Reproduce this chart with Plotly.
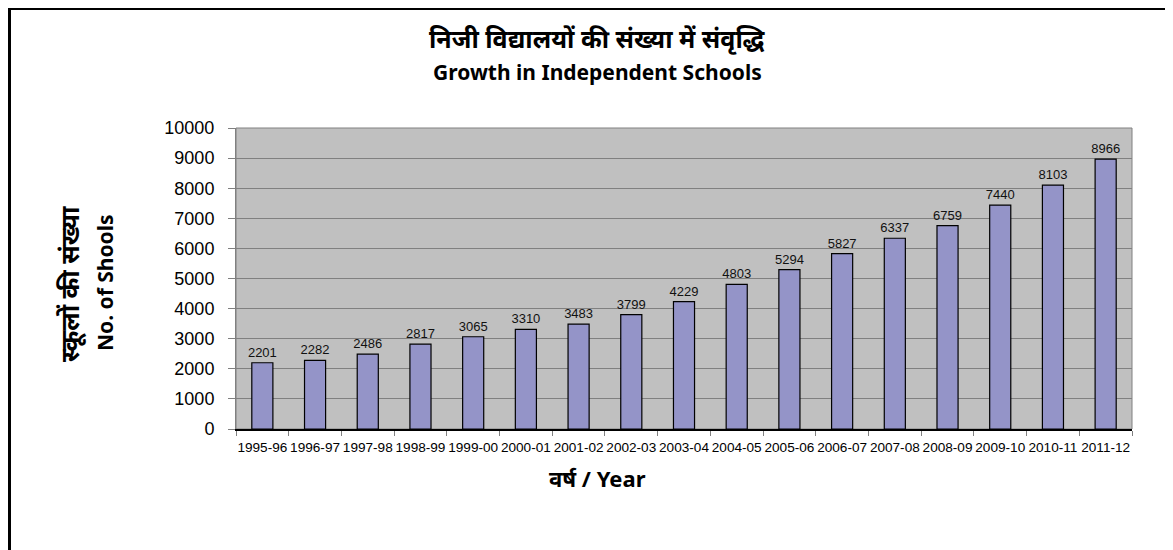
import plotly.graph_objects as go

years = ["1995-96", "1996-97", "1997-98", "1998-99", "1999-00", "2000-01", "2001-02",
         "2002-03", "2003-04", "2004-05", "2005-06", "2006-07", "2007-08", "2008-09",
         "2009-10", "2010-11", "2011-12"]
schools = [2201, 2282, 2486, 2817, 3065, 3310, 3483, 3799, 4229, 4803, 5294, 5827,
           6337, 6759, 7440, 8103, 8966]
y_ticks = [0, 1000, 2000, 3000, 4000, 5000, 6000, 7000, 8000, 9000, 10000]

OFF = 8  # default page body margin
PAGE_W, PAGE_H = 1173, 550
W, H = PAGE_W - OFF, PAGE_H - OFF
# plot area in page pixels
PL, PR, PT, PB = 236, 1132, 128, 429
L, T = PL - OFF, PT - OFF
R, B = W - (PR - OFF), H - (PB - OFF)
pw, ph = PR - PL, PB - PT

def px(x):
    return (x - PL) / pw

def py(y):
    return (PB - y) / ph

fig = go.Figure()
fig.add_trace(go.Bar(
    x=years, y=schools,
    marker=dict(color="#9494C8", line=dict(color="black", width=1.2)),
    width=0.4,
    text=[str(v) for v in schools], textposition="outside",
    textfont=dict(family="Liberation Sans, Arial", size=13, color="#111"),
    constraintext="none",
    cliponaxis=False,
))

fig.update_layout(
    width=W, height=H,
    margin=dict(l=L, r=R, t=T, b=B, pad=0),
    paper_bgcolor="white", plot_bgcolor="#C0C0C0",
    showlegend=False,
    xaxis=dict(
        type="category", showgrid=False, tickson="boundaries", ticks="outside",
        ticklen=5, tickcolor="#808080", showline=True, linecolor="black", linewidth=1.5,
        tickfont=dict(family="Liberation Sans, Arial", size=13.6, color="black"),
        tickangle=0, mirror=False, ticklabelstandoff=5,
    ),
    yaxis=dict(
        range=[0, 10000], tickvals=y_ticks, ticktext=[str(v) for v in y_ticks],
        showgrid=True, gridcolor="#808080", gridwidth=1,
        ticks="outside", ticklen=7, tickcolor="#808080", showline=True, linecolor="#808080",
        tickfont=dict(family="Liberation Sans, Arial", size=18, color="black"),
        zeroline=False, ticklabelstandoff=10,
    ),
)

# plot border
fig.add_shape(type="rect", xref="paper", yref="paper", x0=0, x1=1, y0=0, y1=1,
              line=dict(color="#808080", width=1), layer="below")

# outer frame (top and left visible)
fig.add_shape(type="rect", xref="paper", yref="paper",
              x0=px(9.5), x1=px(1200), y0=py(600), y1=py(8.5),
              line=dict(color="black", width=3))

font_b = "Noto Sans, Open Sans, sans-serif"
fig.add_annotation(text="<b>निजी विद्यालयों की संख्या में संवृद्धि</b>", xref="paper", yref="paper",
                   x=px(597), y=py(38), showarrow=False, xanchor="center", yanchor="middle",
                   font=dict(family=font_b, size=25, color="black"))
fig.add_annotation(text="<b>Growth in Independent Schools</b>", xref="paper", yref="paper",
                   x=px(597), y=py(72), showarrow=False, xanchor="center", yanchor="middle",
                   font=dict(family=font_b, size=21, color="black"))
fig.add_annotation(text="<b>स्कूलों की संख्या</b>", xref="paper", yref="paper",
                   x=px(69), y=py(284), showarrow=False, textangle=-90,
                   xanchor="center", yanchor="middle",
                   font=dict(family=font_b, size=25, color="black"))
fig.add_annotation(text="<b>No. of Shools</b>", xref="paper", yref="paper",
                   x=px(105), y=py(283), showarrow=False, textangle=-90,
                   xanchor="center", yanchor="middle",
                   font=dict(family=font_b, size=21, color="black"))
fig.add_annotation(text="<b>वर्ष / Year</b>", xref="paper", yref="paper",
                   x=px(597), y=py(478), showarrow=False, xanchor="center", yanchor="middle",
                   font=dict(family=font_b, size=22, color="black"))

fig.write_html("out.html")
